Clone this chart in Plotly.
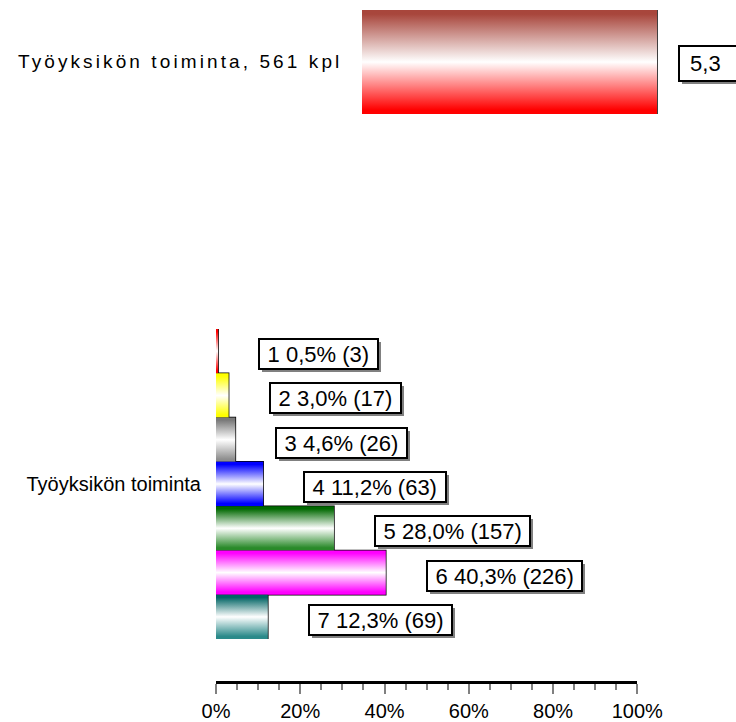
import plotly.graph_objects as go

W, H = 736, 722

# Item summary
item_label = "Työyksikön toiminta"
n_total = 561
mean_score = 5.3

# Answer distribution (scale 1-7)
answer_codes = [1, 2, 3, 4, 5, 6, 7]
answer_pct = [0.5, 3.0, 4.6, 11.2, 28.0, 40.3, 12.3]
answer_n = [3, 17, 26, 63, 157, 226, 69]

x_ticks = [0, 20, 40, 60, 80, 100]
x_ticklabels = ["0%", "20%", "40%", "60%", "80%", "100%"]

# Edge colours (top, bottom) of each answer bar; the middle fades to white
bar_edges = [("#ff0000", "#ff0000"), ("#ffff00", "#ffff00"), ("#7a7a7a", "#8e8e8e"),
             ("#0000ff", "#0000ff"), ("#006800", "#2a8a2a"), ("#ff00ff", "#ff00ff"),
             ("#006464", "#2b8a8a")]
mean_edges = ("#a8463c", "#ff0000")

FONT = "Liberation Sans, Arial, sans-serif"


def px_x(p):
    return p / W


def px_y(p):
    return 1 - p / H


def fmt_num(v):
    return f"{v:.1f}".replace(".", ",")


def cylinder_scale(top, bottom):
    # colorscale runs from the gradient start (top edge) to its stop (bottom edge)
    return [[0, top], [0.06, top], [0.5, "#ffffff"], [0.94, bottom], [1, bottom]]


fig = go.Figure()

# ---- mean score panel -------------------------------------------------------
fig.add_trace(go.Scatter(
    x=[0, mean_score, mean_score, 0, 0], y=[-0.5, -0.5, 0.5, 0.5, -0.5],
    xaxis="x2", yaxis="y2", mode="lines", line=dict(width=0), fill="toself",
    fillgradient=dict(type="vertical", start=-0.5, stop=0.5,
                      colorscale=[[0, mean_edges[1]], [0.04, mean_edges[1]], [0.5, "#ffffff"],
                                  [0.96, mean_edges[0]], [1, mean_edges[0]]]),
    hoverinfo="skip", showlegend=False))

# ---- distribution panel -----------------------------------------------------
for code, pct, (top, bottom) in zip(answer_codes, answer_pct, bar_edges):
    fig.add_trace(go.Scatter(
        x=[0, pct, pct, 0, 0], y=[code - 0.5, code - 0.5, code + 0.5, code + 0.5, code - 0.5],
        xaxis="x", yaxis="y", mode="lines", line=dict(width=0), fill="toself",
        fillgradient=dict(type="vertical", start=code - 0.5, stop=code + 0.5,
                          colorscale=cylinder_scale(top, bottom)),
        hoverinfo="skip", showlegend=False))

fig.add_trace(go.Bar(
    x=[mean_score], y=[0], orientation="h", width=1, xaxis="x2", yaxis="y2",
    marker=dict(color="rgba(0,0,0,0)", line=dict(color="#000000", width=1.5)),
    showlegend=False))

fig.add_trace(go.Bar(
    x=answer_pct, y=answer_codes, orientation="h", width=1, xaxis="x", yaxis="y",
    marker=dict(color="rgba(0,0,0,0)", line=dict(color="#000000", width=1.5)),
    showlegend=False))

annotations = []
for code, pct, n in zip(answer_codes, answer_pct, answer_n):
    annotations.append(dict(
        x=pct, y=code, xref="x", yref="y", xanchor="left", yanchor="middle",
        xshift=40, yshift=-3, showarrow=False,
        text=f"\u00a0{code} {fmt_num(pct)}% ({n})\u00a0",
        font=dict(family=FONT, size=22, color="#000000"),
        bgcolor="#ffffff", bordercolor="#000000", borderwidth=2, borderpad=1.5))

# mean value box: wide box running past the right edge, value at its left
annotations.append(dict(
    x=mean_score, y=0, xref="x2", yref="y2", xanchor="left", yanchor="middle",
    xshift=21, yshift=-2, showarrow=False,
    text=f"\u00a0{fmt_num(mean_score)}", width=74, align="left",
    font=dict(family=FONT, size=22, color="#000000"),
    bgcolor="#ffffff", bordercolor="#000000", borderwidth=2, borderpad=4))

annotations.append(dict(
    x=px_x(16), y=px_y(62), xref="paper", yref="paper", xanchor="left", yanchor="middle",
    showarrow=False, text=f"{item_label}, {n_total} kpl",
    font=dict(family=FONT, size=19, color="#000000")))

fig.update_layout(
    width=W, height=H, margin=dict(l=0, r=0, t=0, b=0, autoexpand=False),
    paper_bgcolor="#ffffff", plot_bgcolor="rgba(0,0,0,0)",
    barmode="overlay", showlegend=False,
    font=dict(family=FONT, size=20, color="#000000"),
    annotations=annotations,
    xaxis=dict(
        domain=[px_x(216), px_x(637.3)], range=[0, 100], anchor="free",
        position=px_y(682), showgrid=False, zeroline=False,
        showline=True, linecolor="#000000", linewidth=3,
        tickmode="array", tickvals=x_ticks, ticktext=x_ticklabels,
        ticks="outside", ticklen=10, tickwidth=1.5, tickcolor="#808080",
        tickfont=dict(family=FONT, size=20, color="#000000"),
        minor=dict(dtick=5, ticks="outside", ticklen=6, tickwidth=1.5, tickcolor="#808080"),
        automargin=False, fixedrange=True),
    yaxis=dict(
        domain=[px_y(639), px_y(329)], range=[7.5, 0.5], anchor="x",
        showgrid=False, zeroline=False, showline=False,
        tickmode="array", tickvals=[4], ticktext=[item_label], ticks="",
        ticklabelstandoff=14, automargin=False,
        tickfont=dict(family=FONT, size=20, color="#000000"), fixedrange=True),
    xaxis2=dict(
        domain=[px_x(362), 1], range=[0, mean_score * (W - 362) / (657 - 362)],
        anchor="y2", visible=False, fixedrange=True),
    yaxis2=dict(
        domain=[px_y(114), px_y(10)], range=[-0.5, 0.5], anchor="x2",
        visible=False, fixedrange=True),
)

# Drop shadows behind the value boxes and letter spacing for the item caption
post_js = """
var gd = document.getElementById('{plot_id}');
function decorate() {
  gd.querySelectorAll('g.annotation').forEach(function (a) {
    var t = a.querySelector('text.annotation-text');
    if (!t) return;
    if (t.textContent.indexOf('kpl') >= 0) {
      if (!t.getAttribute('data-spaced')) {
        var b0 = t.getBBox();
        t.style.letterSpacing = '3.1px';
        var b1 = t.getBBox();
        var x0 = parseFloat(t.getAttribute('x') || '0');
        t.setAttribute('x', x0 + (b0.x - b1.x));
        t.setAttribute('data-spaced', '1');
      }
      return;
    }
    var bg = a.querySelector('rect.bg');
    if (!bg || a.querySelector('rect.shadow')) return;
    var sh = bg.cloneNode(false);
    sh.setAttribute('class', 'shadow');
    sh.style.fill = '#808080';
    sh.style.stroke = 'none';
    sh.setAttribute('transform', 'translate(3,3)');
    bg.parentNode.insertBefore(sh, bg);
  });
}
decorate();
if (gd.on) { gd.on('plotly_afterplot', decorate); }
"""

fig.write_html("out.html", post_script=post_js)
